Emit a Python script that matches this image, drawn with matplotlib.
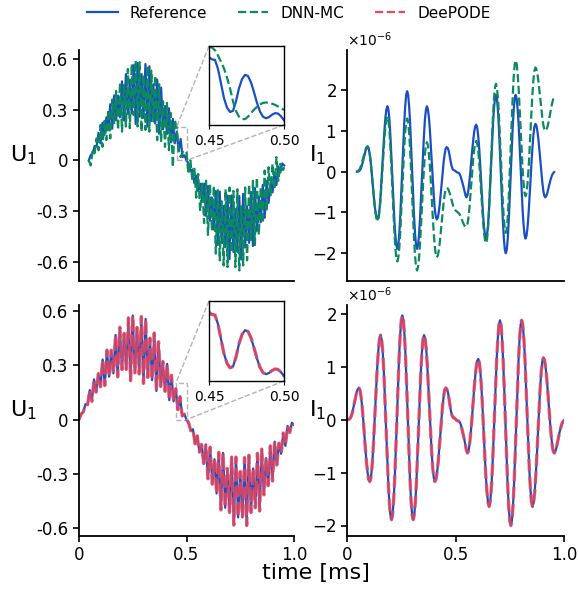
import numpy as np
import matplotlib
matplotlib.use('Agg')
import matplotlib.pyplot as plt
from matplotlib.ticker import ScalarFormatter
from mpl_toolkits.axes_grid1.inset_locator import mark_inset

plt.rcParams['font.family'] = ['DejaVu Sans']
plt.rcParams['axes.unicode_minus'] = False

# ---------------- data ----------------
# U1 samples every 0.01 ms
u1_ref = [0.00, 0.031, 0.042, 0.085, 0.082, 0.163, 0.101, 0.222, 0.152, 0.254,
          0.181, 0.332, 0.188, 0.384, 0.237, 0.383, 0.255, 0.467, 0.236, 0.51,
          0.276, 0.476, 0.277, 0.562, 0.215, 0.575, 0.258, 0.509, 0.252, 0.569,
          0.20, 0.556, 0.233, 0.45, 0.218, 0.478, 0.158, 0.43, 0.183, 0.321,
          0.156, 0.308, 0.107, 0.245, 0.101, 0.17, 0.055, 0.127, 0.02, 0.03,
          0.00, -0.018, -0.062, -0.053, -0.134, -0.09, -0.18, -0.137, -0.243, -0.137,
          -0.327, -0.152, -0.357, -0.219, -0.408, -0.181, -0.499, -0.184, -0.487, -0.27,
          -0.513, -0.207, -0.583, -0.207, -0.54, -0.288, -0.54, -0.21, -0.585, -0.197,
          -0.513, -0.27, -0.487, -0.186, -0.505, -0.163, -0.416, -0.213, -0.365, -0.145,
          -0.339, -0.122, -0.251, -0.13, -0.189, -0.074, -0.145, -0.035, -0.071, -0.018,
          -0.03]
u1_dnn = [0.00, -0.03, 0.06, 0.042, 0.13, 0.06, 0.21, 0.08, 0.233, 0.12,
          0.30, 0.13, 0.36, 0.213, 0.41, 0.18, 0.46, 0.17, 0.445, 0.20,
          0.54, 0.19, 0.57, 0.267, 0.59, 0.20, 0.58, 0.17, 0.505, 0.18,
          0.56, 0.17, 0.53, 0.23, 0.50, 0.12, 0.45, 0.11, 0.35, 0.08,
          0.34, 0.06, 0.28, -0.04, 0.24, 0.19, 0.06, 0.02, 0.05, 0.06,
          0.045, -0.08, 0.00, -0.12, -0.04, -0.22, -0.08, -0.30, -0.137, -0.37,
          -0.12, -0.44, -0.14, -0.417, -0.15, -0.55, -0.17, -0.59, -0.241, -0.62,
          -0.17, -0.63, -0.16, -0.543, -0.18, -0.63, -0.17, -0.65, -0.271, -0.62,
          -0.16, -0.59, -0.14, -0.47, -0.12, -0.50, -0.10, -0.44, -0.158, -0.37,
          -0.06, -0.30, -0.04, -0.212, -0.02, -0.17, 0.02, -0.12, -0.02, -0.07,
          -0.04]
u1_deepode = list(u1_ref)

# zoomed window 0.45-0.50 ms, samples every 0.002 ms
ins_ref = [0.172, 0.166, 0.165, 0.142, 0.105, 0.068, 0.044, 0.033, 0.036, 0.060,
           0.093, 0.116, 0.127, 0.124, 0.108, 0.083, 0.056, 0.034, 0.021, 0.017,
           0.020, 0.026, 0.030, 0.029, 0.022, 0.012]
ins_dnn = [0.198, 0.196, 0.189, 0.176, 0.160, 0.143, 0.120, 0.093, 0.060, 0.035,
           0.021, 0.015, 0.015, 0.021, 0.030, 0.039, 0.046, 0.052, 0.056, 0.057,
           0.056, 0.054, 0.051, 0.047, 0.043, 0.038]
ins_deepode = list(ins_ref)

# I1 (x1e-6) samples every 0.005 ms
i1_ref = [0.0, 0.0, 0.01, 0.03, 0.07, 0.14, 0.24, 0.35, 0.45, 0.53, 0.58, 0.60,
          0.56, 0.43, 0.24, -0.01, -0.29, -0.56, -0.81, -1.00, -1.13, -1.17,
          -1.10, -0.91, -0.60, -0.21, 0.22, 0.64, 1.03, 1.34, 1.53, 1.60,
          1.51, 1.27, 0.88, 0.39, -0.15, -0.68, -1.17, -1.56, -1.80, -1.89,
          -1.80, -1.52, -1.10, -0.56, 0.04, 0.64, 1.18, 1.60, 1.88, 1.97,
          1.88, 1.60, 1.18, 0.64, 0.04, -0.56, -1.10, -1.52, -1.80, -1.89,
          -1.80, -1.56, -1.17, -0.68, -0.15, 0.39, 0.88, 1.27, 1.51, 1.60,
          1.53, 1.34, 1.03, 0.64, 0.22, -0.21, -0.60, -0.91, -1.10, -1.17,
          -1.13, -1.00, -0.81, -0.56, -0.29, -0.01, 0.24, 0.43, 0.56, 0.60,
          0.58, 0.52, 0.40, 0.26, 0.14, 0.07, 0.04, 0.03, 0.01, -0.01,
          -0.02, -0.03, -0.05, -0.10, -0.18, -0.27, -0.36, -0.47, -0.57, -0.63,
          -0.59, -0.46, -0.26, -0.02, 0.26, 0.54, 0.78, 0.98, 1.11, 1.15,
          1.08, 0.88, 0.58, 0.19, -0.25, -0.68, -1.07, -1.37, -1.57, -1.64,
          -1.55, -1.30, -0.92, -0.42, 0.12, 0.66, 1.16, 1.54, 1.79, 1.88,
          1.79, 1.51, 1.08, 0.54, -0.06, -0.66, -1.20, -1.63, -1.91, -2.00,
          -1.91, -1.63, -1.20, -0.66, -0.06, 0.54, 1.08, 1.51, 1.79, 1.88,
          1.79, 1.54, 1.16, 0.66, 0.12, -0.42, -0.92, -1.30, -1.55, -1.64,
          -1.57, -1.37, -1.06, -0.67, -0.24, 0.20, 0.59, 0.90, 1.10, 1.17,
          1.13, 1.00, 0.80, 0.55, 0.27, -0.01, -0.26, -0.46, -0.59, -0.63,
          -0.60, -0.53, -0.43, -0.33, -0.23, -0.15, -0.08, -0.04, -0.01]
i1_dnn = [0.0, 0.01, 0.03, 0.07, 0.13, 0.21, 0.30, 0.40, 0.49, 0.56, 0.61, 0.62,
          0.58, 0.45, 0.25, -0.01, -0.29, -0.57, -0.83, -1.03, -1.16, -1.20,
          -1.14, -0.96, -0.68, -0.32, 0.08, 0.47, 0.83, 1.11, 1.29, 1.35,
          1.26, 1.01, 0.62, 0.12, -0.43, -0.97, -1.47, -1.86, -2.11, -2.20,
          -2.11, -1.87, -1.48, -0.99, -0.45, 0.09, 0.58, 0.97, 1.21, 1.30,
          1.21, 0.95, 0.53, 0.02, -0.56, -1.14, -1.65, -2.07, -2.33, -2.42,
          -2.34, -2.12, -1.77, -1.34, -0.85, -0.37, 0.07, 0.42, 0.64, 0.72,
          0.65, 0.45, 0.14, -0.25, -0.69, -1.13, -1.52, -1.83, -2.03, -2.10,
          -2.06, -1.94, -1.75, -1.51, -1.25, -0.99, -0.75, -0.56, -0.44, -0.40,
          -0.41, -0.45, -0.52, -0.61, -0.71, -0.80, -0.87, -0.92, -0.95, -0.97,
          -0.99, -1.01, -1.04, -1.08, -1.14, -1.21, -1.27, -1.32, -1.34, -1.35,
          -1.30, -1.15, -0.92, -0.62, -0.30, 0.02, 0.32, 0.55, 0.70, 0.75,
          0.69, 0.51, 0.24, -0.11, -0.50, -0.89, -1.24, -1.51, -1.69, -1.75,
          -1.65, -1.38, -0.95, -0.40, 0.20, 0.80, 1.35, 1.78, 2.05, 2.15,
          2.06, 1.80, 1.40, 0.89, 0.33, -0.24, -0.75, -1.15, -1.41, -1.50,
          -1.40, -1.10, -0.63, -0.04, 0.61, 1.26, 1.85, 2.32, 2.62, 2.72,
          2.64, 2.40, 2.04, 1.57, 1.06, 0.55, 0.08, -0.28, -0.52, -0.60,
          -0.52, -0.30, 0.05, 0.49, 0.98, 1.46, 1.90, 2.25, 2.47, 2.55,
          2.51, 2.40, 2.23, 2.01, 1.78, 1.54, 1.32, 1.15, 1.04, 1.00,
          1.02, 1.08, 1.17, 1.29, 1.43, 1.56, 1.68, 1.77, 1.83]
i1_deepode = list(i1_ref)

u_ticks = [-0.6, -0.3, 0.0, 0.3, 0.6]
u_ticklabels = ['-0.6', '-0.3', '0', '0.3', '0.6']
i_ticks = [-2, -1, 0, 1, 2]
t_ticks = [0, 0.5, 1.0]
t_ticklabels = ['0', '0.5', '1.0']
legend_labels = ['Reference', 'DNN-MC', 'DeePODE']

# ---------------- style ----------------
C_REF = '#1a4fc4'
C_DNN = '#0b8a5e'
C_DEE = '#f0465a'
LW = 1.6

t_u = np.arange(len(u1_ref)) * 0.01
t_i = np.arange(len(i1_ref)) * 0.005
t_in = 0.45 + np.arange(len(ins_ref)) * 0.002
i_scale = 1e-6

fig = plt.figure(figsize=(5.78, 5.91), dpi=100)
W, H = 578.0, 591.0
axTL = fig.add_axes([79 / W, 1 - 281 / H, 215 / W, 231 / H])
axTR = fig.add_axes([347 / W, 1 - 281 / H, 217 / W, 231 / H])
axBL = fig.add_axes([79 / W, 1 - 536 / H, 215 / W, 231 / H])
axBR = fig.add_axes([347 / W, 1 - 536 / H, 217 / W, 231 / H])

for ax in (axTL, axTR, axBL, axBR):
    ax.spines['top'].set_visible(False)
    ax.spines['right'].set_visible(False)
    ax.spines['left'].set_linewidth(1.3)
    ax.spines['bottom'].set_linewidth(1.3)
    ax.tick_params(labelsize=12, width=1.2, length=4)

# top-left
axTL.plot(t_u, u1_ref, color=C_REF, lw=LW)
axTL.plot(t_u, u1_dnn, color=C_DNN, lw=LW, ls='--')
# bottom-left
axBL.plot(t_u, u1_ref, color=C_REF, lw=LW)
axBL.plot(t_u, u1_deepode, color=C_DEE, lw=2.4, ls='--', alpha=0.8)
axBL.set_xlim(0, 1.0)

# top-right
axTR.plot(t_i, np.array(i1_ref) * i_scale, color=C_REF, lw=LW)
axTR.plot(t_i, np.array(i1_dnn) * i_scale, color=C_DNN, lw=LW, ls='--')
# bottom-right
axBR.plot(t_i, np.array(i1_ref) * i_scale, color=C_REF, lw=LW)
axBR.plot(t_i, np.array(i1_deepode) * i_scale, color=C_DEE, lw=2.4, ls='--', alpha=0.8)
axBR.set_xlim(0, 1.0)

for ax in (axTL, axBL):
    ax.set_yticks(u_ticks)
    ax.set_yticklabels(u_ticklabels)
    ax.set_ylabel('U$_1$', fontsize=16, rotation=0, va='center', ha='center')
    ax.yaxis.set_label_coords(-0.259, 0.545)

for ax in (axTR, axBR):
    fmt = ScalarFormatter(useMathText=True)
    ax.yaxis.set_major_formatter(fmt)
    ax.set_yticks([v * i_scale for v in i_ticks])
    ax.yaxis.get_offset_text().set_fontsize(10)
    ax.set_ylabel('I$_1$', fontsize=16, rotation=0, va='center', ha='center')
    ax.yaxis.set_label_coords(-0.135, 0.545)

for ax in (axTL, axTR):
    ax.tick_params(axis='x', bottom=False, labelbottom=False)

for ax in (axBL, axBR):
    ax.set_xticks(t_ticks)
    ax.set_xticklabels(t_ticklabels)


def make_inset(parent, rect, series):
    axin = fig.add_axes(rect)
    for y, kw in series:
        axin.plot(t_in, y, **kw)
    axin.set_xlim(0.45, 0.50)
    axin.set_ylim(0.0, 0.2)
    axin.set_xticks([0.45, 0.50])
    axin.set_xticklabels(['0.45', '0.50'])
    axin.set_yticks([])
    axin.tick_params(labelsize=10, length=3)
    for s in axin.spines.values():
        s.set_linewidth(1.0)
    mark_inset(parent, axin, loc1=2, loc2=4, fc='none', ec='0.7', ls='--', lw=1.0)
    return axin


make_inset(axTL, [209 / W, 1 - 125 / H, 75 / W, 79 / H],
           [(ins_ref, dict(color=C_REF, lw=LW)),
            (ins_dnn, dict(color=C_DNN, lw=LW, ls='--'))])
make_inset(axBL, [209 / W, 1 - 381 / H, 75 / W, 80 / H],
           [(ins_ref, dict(color=C_REF, lw=LW)),
            (ins_deepode, dict(color=C_DEE, lw=2.4, ls='--', alpha=0.8))])

# legend
handles = [plt.Line2D([], [], color=C_REF, lw=LW),
           plt.Line2D([], [], color=C_DNN, lw=LW, ls='--'),
           plt.Line2D([], [], color=C_DEE, lw=LW, ls='--')]
fig.legend(handles, legend_labels, loc='center', ncol=3, frameon=False,
           fontsize=11, bbox_to_anchor=(289 / W, 1 - 13 / H))

fig.text(316 / W, 1 - 573 / H, 'time [ms]', ha='center', va='center', fontsize=16)

fig.savefig('out.png', dpi=100)
